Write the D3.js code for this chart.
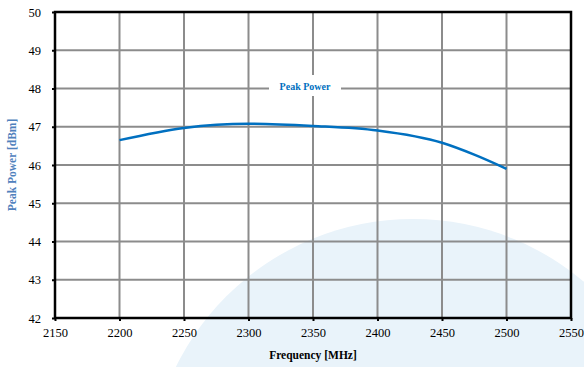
<!DOCTYPE html>
<html lang="en">
<head>
<meta charset="UTF-8">
<title>Peak Power</title>
<script src="https://cdn.jsdelivr.net/npm/d3@7"></script>
<style>
  body { margin: 0; background: #fff; }
  svg text { font-family: "Liberation Serif", "Times New Roman", Times, serif; }
</style>
</head>
<body>
<div id="container"></div>
<script>
    const width = 584;
    const height = 367;
    const margin = { top: 12, left: 55, right: 13, bottom: 49 };
    const serif = '"Liberation Serif", "Times New Roman", Times, serif';

    // data
    const freq = [2200, 2250, 2300, 2350, 2400, 2450, 2475, 2500];
    const power = [46.65, 46.97, 47.08, 47.02, 46.9, 46.58, 46.27, 45.9];
    const xTicks = [2150, 2200, 2250, 2300, 2350, 2400, 2450, 2500, 2550];
    const yTicks = [42, 43, 44, 45, 46, 47, 48, 49, 50];
    const seriesName = 'Peak Power';

    const data = freq.map((f, i) => ({ f, v: power[i] }));

    const x = d3.scaleLinear().domain([2150, 2550]).range([margin.left, width - margin.right]);
    const y = d3.scaleLinear().domain([42, 50]).range([height - margin.bottom, margin.top]);

    const svg = d3.select('#container').append('svg')
        .attr('width', width)
        .attr('height', height);

    // background watermark
    svg.append('circle')
        .attr('cx', 413).attr('cy', 483).attr('r', 264)
        .attr('fill', '#e9f3fa');

    // grid
    const grid = svg.append('g').attr('stroke', '#8c8c8c').attr('stroke-width', 2);
    grid.selectAll('.gx').data(xTicks.slice(1, -1)).join('line')
        .attr('x1', d => x(d)).attr('x2', d => x(d))
        .attr('y1', y(42)).attr('y2', y(50));
    grid.selectAll('.gy').data(yTicks.slice(1, -1)).join('line')
        .attr('x1', x(2150)).attr('x2', x(2550))
        .attr('y1', d => y(d)).attr('y2', d => y(d));

    // axes
    const gx = svg.append('g')
        .attr('transform', `translate(0, ${height - margin.bottom})`)
        .call(d3.axisBottom(x).tickValues(xTicks).tickFormat(d3.format('d'))
            .tickSize(3).tickPadding(7).tickSizeOuter(0));
    const gy = svg.append('g')
        .attr('transform', `translate(${margin.left}, 0)`)
        .call(d3.axisLeft(y).tickValues(yTicks).tickFormat(d3.format('d'))
            .tickSize(3).tickPadding(11).tickSizeOuter(0));

    [gx, gy].forEach(g => {
        g.attr('font-family', serif);
        g.select('.domain').remove();
        g.selectAll('.tick line').attr('stroke', '#000').attr('stroke-width', 2);
        g.selectAll('.tick text')
            .style('font-family', serif)
            .attr('font-size', 12.5)
            .attr('fill', '#000');
    });

    // frame
    svg.append('rect')
        .attr('x', x(2150)).attr('y', y(50))
        .attr('width', x(2550) - x(2150))
        .attr('height', y(42) - y(50))
        .attr('fill', 'none')
        .attr('stroke', '#000')
        .attr('stroke-width', 2.5);

    // legend
    svg.append('rect')
        .attr('x', 269).attr('y', 75).attr('width', 72).attr('height', 21)
        .attr('fill', '#fff');
    svg.append('text')
        .attr('x', 305).attr('y', 89.5)
        .attr('text-anchor', 'middle')
        .style('font-family', serif)
        .attr('font-size', 10)
        .attr('font-weight', 'bold')
        .attr('fill', '#0070c0')
        .text(seriesName);

    // line
    const line = d3.line()
        .x(d => x(d.f))
        .y(d => y(d.v))
        .curve(d3.curveMonotoneX);

    svg.append('path')
        .datum(data)
        .attr('fill', 'none')
        .attr('stroke', '#0070c0')
        .attr('stroke-width', 2.5)
        .attr('d', line);

    // axis titles
    svg.append('text')
        .attr('x', (x(2150) + x(2550)) / 2)
        .attr('y', 359)
        .attr('text-anchor', 'middle')
        .style('font-family', serif)
        .attr('font-size', 11.5)
        .attr('font-weight', 'bold')
        .attr('fill', '#000')
        .text('Frequency [MHz]');

    svg.append('text')
        .attr('transform', `translate(16, ${(y(42) + y(50)) / 2}) rotate(-90)`)
        .attr('text-anchor', 'middle')
        .style('font-family', serif)
        .attr('font-size', 11.5)
        .attr('font-weight', 'bold')
        .attr('fill', '#4f81bd')
        .text('Peak Power [dBm]');
</script>
</body>
</html>
